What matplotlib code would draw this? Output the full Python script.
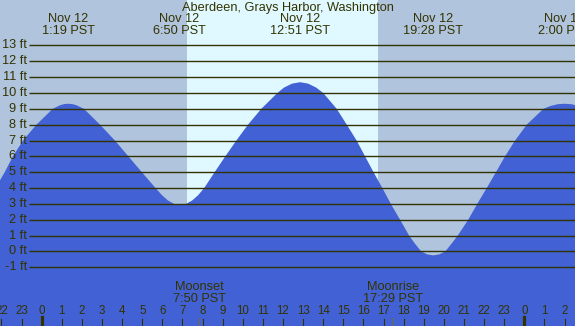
import numpy as np
import matplotlib
matplotlib.use("Agg")
import matplotlib.pyplot as plt

# ---------------------------------------------------------
# DATA
# ---------------------------------------------------------
TITLE = "Aberdeen, Grays Harbor, Washington"

# tide height (ft) vs hour of Nov 12 (hours past midnight)
tide_hours = [-2.5, -2.07, -1.84, -1.43, -0.93, -0.26, 0.55, 0.92, 1.12, 1.32,
              1.52, 1.72, 2.1, 2.9, 3.64, 4.31, 4.98, 5.66, 5.98, 6.28,
              6.58, 6.88, 7.18, 7.48, 7.78, 8.08, 8.6, 9.13, 9.68, 10.26,
              10.92, 11.72, 12.05, 12.45, 12.85, 13.25, 13.65, 14.0, 14.67, 15.17,
              15.66, 16.08, 16.5, 16.94, 17.36, 17.82, 18.27, 18.57, 18.87, 19.17,
              19.47, 19.77, 20.07, 20.37, 20.69, 21.21, 21.66, 22.13, 22.59, 23.04,
              23.54, 24.12, 24.95, 25.3, 25.65, 26.0, 26.35, 26.7, 27.0]
tide_feet = [3.6, 4.5, 5.0, 6.0, 7.0, 8.0, 9.0, 9.23, 9.3, 9.32,
             9.3, 9.23, 9.0, 8.0, 7.0, 6.0, 5.0, 4.0, 3.55, 3.21,
             3.0, 2.93, 3.0, 3.21, 3.55, 4.0, 5.0, 6.0, 7.0, 8.0,
             9.0, 10.0, 10.34, 10.59, 10.68, 10.59, 10.34, 10.0, 9.0, 8.0,
             7.0, 6.0, 5.0, 4.0, 3.0, 2.0, 1.0, 0.47, 0.0, -0.19,
             -0.25, -0.19, 0.0, 0.47, 1.0, 2.0, 3.0, 4.0, 5.0, 6.0,
             7.0, 8.0, 9.0, 9.18, 9.29, 9.32, 9.29, 9.18, 9.0]

# high / low labels along the top
extreme_hours = [1.32, 6.83, 12.85, 19.47, 26.0]
extreme_dates = ["Nov 12", "Nov 12", "Nov 12", "Nov 12", "Nov 13"]
extreme_times = ["1:19 PST", "6:50 PST", "12:51 PST", "19:28 PST", "2:00 PST"]

SUNRISE = 7.22
SUNSET = 16.70

moon_hours = [7.83, 17.48]
moon_names = ["Moonset", "Moonrise"]
moon_times = ["7:50 PST", "17:29 PST"]

grid_feet = list(range(-1, 14))
hour_ticks = list(range(-2, 27))

# ---------------------------------------------------------
# STYLE
# ---------------------------------------------------------
W, H = 575, 326
X_MIN, X_MAX = -2.074, 26.52
Y_MIN, Y_MAX = -4.71, 15.87
NIGHT = "#b0c4de"
DAY = "#e0f8ff"
WATER = "#4161d5"
INK = "#333300"
MOON_INK = "#7a6a3a"
FONT = "Liberation Sans"
FS = 9.2


def px_to_ft(y):
    # pixel row -> data y
    return Y_MAX - y / H * (Y_MAX - Y_MIN)


def px_to_hr(x):
    return X_MIN + x / W * (X_MAX - X_MIN)


fig = plt.figure(figsize=(W / 100, H / 100), dpi=100)
ax = fig.add_axes([0, 0, 1, 1])
ax.set_xlim(X_MIN, X_MAX)
ax.set_ylim(Y_MIN, Y_MAX)
ax.axis("off")

# sky
ax.axvspan(X_MIN, X_MAX, color=NIGHT, zorder=0, lw=0)
ax.axvspan(SUNRISE, SUNSET, color=DAY, zorder=0, lw=0)

# water
ax.fill_between(tide_hours, tide_feet, Y_MIN, color=WATER, lw=0, zorder=1)

# gridlines + labels
x_grid0 = px_to_hr(29)
for ft in grid_feet:
    ax.plot([x_grid0, X_MAX], [ft, ft], color=INK, lw=1.0, zorder=2,
            solid_capstyle="butt")
    ax.text(px_to_hr(27), ft, f"{ft} ft", ha="right", va="center",
            fontsize=FS, color=INK, family=FONT, zorder=3)

# title and extreme labels
ax.text(np.mean([X_MIN, X_MAX]), px_to_ft(7.5), TITLE, ha="center", va="center",
        fontsize=FS, color=INK, family=FONT, zorder=3)
for hr, d, t in zip(extreme_hours, extreme_dates, extreme_times):
    ax.text(hr, px_to_ft(19.5), d, ha="center", va="center",
            fontsize=FS, color=INK, family=FONT, zorder=3)
    ax.text(hr, px_to_ft(31.5), t, ha="center", va="center",
            fontsize=FS, color=INK, family=FONT, zorder=3)

# moon events
for hr, name, t in zip(moon_hours, moon_names, moon_times):
    ax.text(hr, px_to_ft(287.5), name, ha="center", va="center",
            fontsize=FS, color=INK, family=FONT, zorder=3)
    ax.text(hr, px_to_ft(299), t, ha="center", va="center",
            fontsize=FS, color=INK, family=FONT, zorder=3)
    ax.plot([hr, hr], [px_to_ft(318), Y_MIN], color=MOON_INK, lw=0.8, zorder=3)

# hour ticks along the bottom
for hr in hour_ticks:
    ax.text(hr, px_to_ft(311.5), str(hr % 24), ha="center", va="center",
            fontsize=8.3, color=INK, family=FONT, zorder=3)
    if hr % 24 == 0:
        ax.plot([hr, hr], [px_to_ft(317), Y_MIN], color=INK, lw=2.3, zorder=3)
    else:
        ax.plot([hr, hr], [px_to_ft(318.5), Y_MIN], color=INK, lw=0.8, zorder=3)

fig.savefig("out.png", dpi=100)
